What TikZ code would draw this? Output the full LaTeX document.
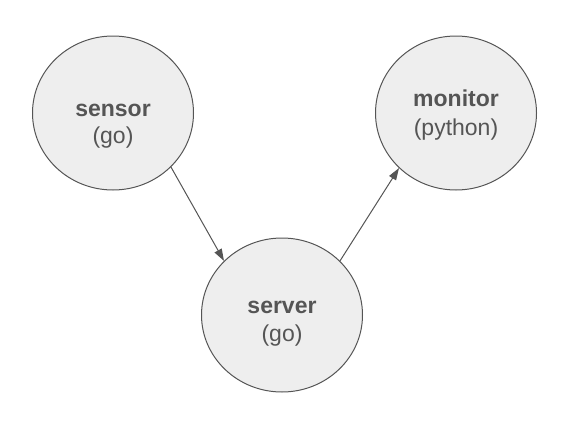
\documentclass[tikz,border=0pt]{standalone}
\usepackage{fontspec}
\setmainfont{Liberation Sans}
\usetikzlibrary{shapes.geometric,arrows.meta}
\definecolor{ink}{HTML}{555555}
\definecolor{bubble}{HTML}{EEEEEE}
\tikzset{
  proc/.style={ellipse, draw=ink, fill=bubble, line width=1pt, inner sep=0pt,
    minimum width=161pt, minimum height=154pt},
  lbl/.style={anchor=base, inner sep=0pt, text=ink, font=\fontsize{23}{27}\selectfont},
  bl/.style={lbl, font=\fontsize{23}{27}\selectfont\bfseries},
  conn/.style={draw=ink, line width=1pt, -{Triangle[length=12pt,width=8pt]}}
}
\begin{document}
\begin{tikzpicture}[x=1pt,y=-1pt]
\useasboundingbox (0,0) rectangle (578,423);
\node[proc] (sensor) at (113,113) {};
\node[proc] (monitor) at (456,113) {};
\node[proc] (server) at (282,315) {};
\node[bl] (sensorA) at (113,116) {sensor};
\node[lbl] (sensorB) at (113,143.5) {(go)};
\node[bl] (monitorA) at (456,106.7) {monitor};
\node[lbl] (monitorB) at (456,135.3) {(python)};
\node[bl] (serverA) at (282,313) {server};
\node[lbl] (serverB) at (282,341) {(go)};
\draw[conn] (sensor.-43) -- (server.137);
\draw[conn] (server.43) -- (monitor.-136);
\end{tikzpicture}
\end{document}
